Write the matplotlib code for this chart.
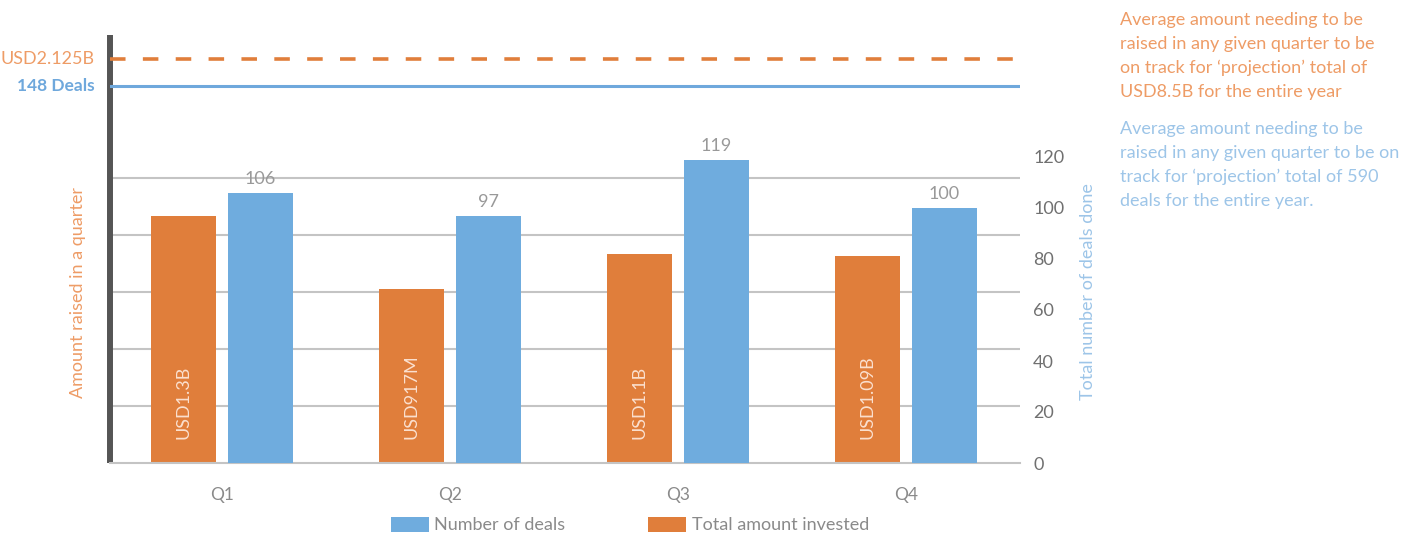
import matplotlib
matplotlib.use("Agg")
import matplotlib.pyplot as plt
from matplotlib.patches import Patch
import matplotlib.transforms as mtransforms
import numpy as np

plt.rcParams['font.family'] = ['Lato', 'DejaVu Sans']

# Quarterly data
quarters = ["Q1", "Q2", "Q3", "Q4"]
amount_billion = [1.3, 0.917, 1.1, 1.09]
amount_labels = ["USD1.3B", "USD917M", "USD1.1B", "USD1.09B"]
deals = [106, 97, 119, 100]
deal_ticks = [0, 20, 40, 60, 80, 100, 120]

# Targets for an on-track year
target_amount = 2.125     # USD billions per quarter (8.5B / 4)
target_deals = 148        # deals per quarter (590 / 4)

ORANGE = "#E07E3B"
BLUE = "#6FACDE"
ORANGE_TXT = "#EE9C66"
BLUE_TXT = "#9DC5E8"
GRAY = "#707070"
FS = 13

W, H = 1404, 533
fig = plt.figure(figsize=(W / 100, H / 100), dpi=100)
ax_left, ax_right, ax_bottom, ax_top = 110, 1020, 463, 35
ax = fig.add_axes([ax_left / W, 1 - ax_bottom / H,
                   (ax_right - ax_left) / W, (ax_bottom - ax_top) / H])
ax2 = ax.twinx()

px_h = ax_bottom - ax_top
ax.set_ylim(0, px_h / 190.0)
ax2.set_ylim(0, px_h / 2.55)

x = np.arange(len(quarters))
bw = 0.285
off = 0.169
ax.set_xlim(-0.49, 3.5)

# gridlines of the amount axis
ax.set_yticks([0.3, 0.6, 0.9, 1.2, 1.5])
ax.yaxis.grid(True, color="#c4c4c4", lw=1.5)
ax.set_axisbelow(True)
ax.tick_params(axis="y", left=False, labelleft=False)
ax.tick_params(axis="x", bottom=False, labelsize=12.5, labelcolor="#8a8a8a", pad=14)
ax2.tick_params(axis="x", bottom=False, top=False)
ax.set_xticks(x)
ax.set_xticklabels(quarters)

# amount bars
ax.bar(x - off, amount_billion, width=bw, color=ORANGE, zorder=2)
for xi, lab in zip(x, amount_labels):
    ax.annotate(lab, xy=(xi - off, 0), xytext=(0, 17), textcoords="offset points",
                rotation=90, ha="center", va="bottom", fontsize=FS,
                color="#fbe0cf")

# deal bars
ax2.bar(x + off, deals, width=bw, color=BLUE, zorder=2)
for xi, d in zip(x, deals):
    ax2.annotate(str(d), xy=(xi + off, d), xytext=(0, 4), textcoords="offset points",
                 ha="center", va="bottom", fontsize=FS, color="#999999")

# target lines
ax.axhline(target_amount, color=ORANGE, lw=2.6, dashes=(4.3, 4.8), zorder=3)
ax2.axhline(target_deals, color="#6FA8DC", lw=2.2, zorder=3)

trans_l = mtransforms.blended_transform_factory(fig.transFigure, ax.transData)
ax.text(95 / W, target_amount, "USD2.125B", transform=trans_l, ha="right",
        va="center", fontsize=FS, color=ORANGE_TXT)
trans_r = mtransforms.blended_transform_factory(fig.transFigure, ax2.transData)
ax2.text(95 / W, target_deals, "148 Deals", transform=trans_r, ha="right",
         va="center", fontsize=12.5, color="#6FA8DC", fontweight="bold")

# right axis
ax2.set_yticks(deal_ticks)
ax2.tick_params(axis="y", right=False, labelsize=FS, labelcolor=GRAY, pad=6)

for s in ("top", "right"):
    ax.spines[s].set_visible(False)
    ax2.spines[s].set_visible(False)
ax2.spines["left"].set_visible(False)
ax2.spines["bottom"].set_visible(False)
ax.spines["left"].set_color("#555555")
ax.spines["left"].set_linewidth(4.3)
ax.spines["left"].set_capstyle("butt")
ax.spines["bottom"].set_color("#c4c4c4")
ax.spines["bottom"].set_linewidth(1.5)

# axis titles
fig.text(78 / W, 1 - 293 / H, "Amount raised in a quarter", rotation=90,
         ha="center", va="center", fontsize=FS, color=ORANGE_TXT)
fig.text(1088 / W, 1 - 292 / H, "Total number of deals done", rotation=90,
         ha="center", va="center", fontsize=FS, color=BLUE_TXT)

# side notes
orange_note = ["Average amount needing to be",
               "raised in any given quarter to be",
               "on track for \u2018projection\u2019 total of",
               "USD8.5B for the entire year"]
blue_note = ["Average amount needing to be",
             "raised in any given quarter to be on",
             "track for \u2018projection\u2019 total of 590",
             "deals for the entire year."]
for i, line in enumerate(orange_note):
    fig.text(1120 / W, 1 - (20 + 24 * i) / H, line, ha="left", va="center",
             fontsize=FS, color=ORANGE_TXT)
for i, line in enumerate(blue_note):
    fig.text(1120 / W, 1 - (129 + 24 * i) / H, line, ha="left", va="center",
             fontsize=FS, color=BLUE_TXT)

# legend
handles = [Patch(facecolor=BLUE, edgecolor="none", label="Number of deals"),
           Patch(facecolor=ORANGE, edgecolor="none", label="Total amount invested")]
leg = fig.legend(handles=handles, loc="center", ncol=2,
                 bbox_to_anchor=(630 / W, 1 - 525 / H), frameon=False,
                 fontsize=FS, handlelength=2.1, handleheight=0.9,
                 handletextpad=0.3, columnspacing=4.6, borderpad=0)
for t in leg.get_texts():
    t.set_color("#8a8a8a")

fig.savefig("out.png", dpi=100)
